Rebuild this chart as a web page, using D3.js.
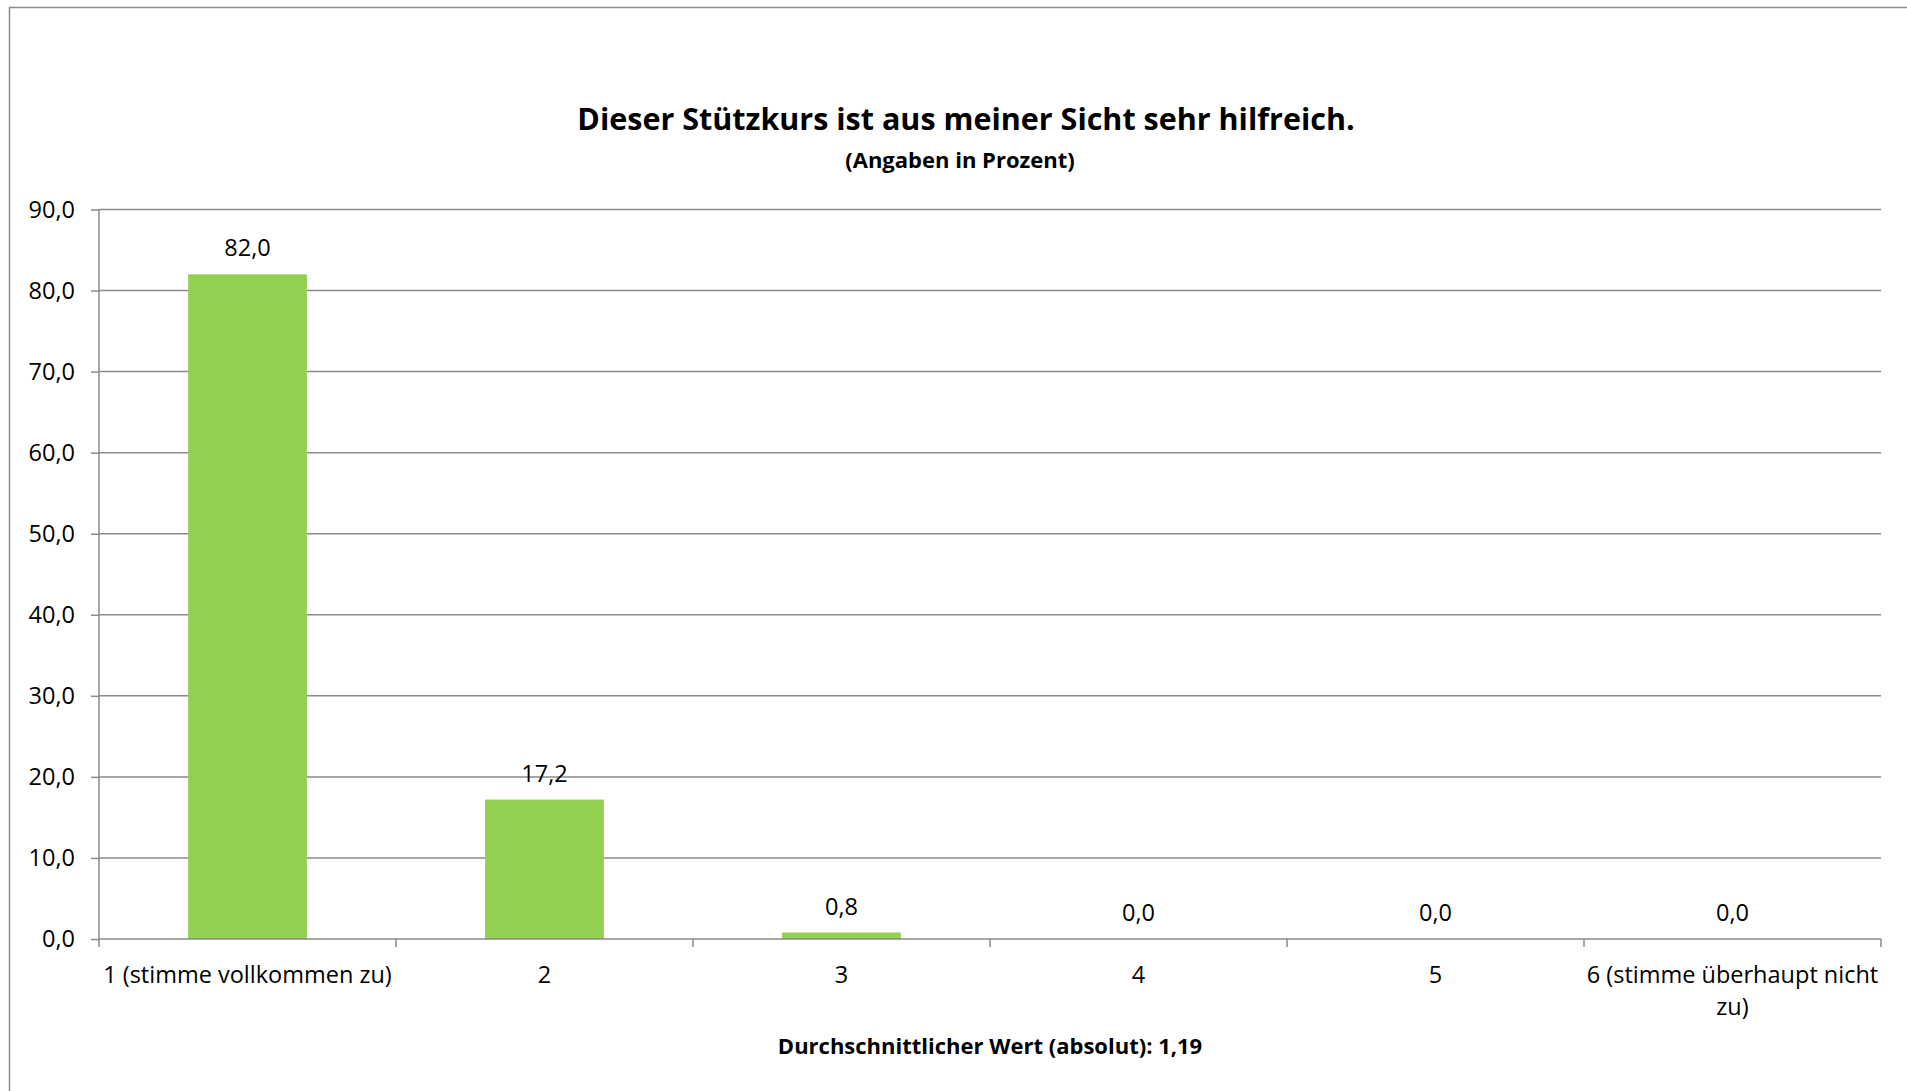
<!DOCTYPE html>
<html>
<head>
<meta charset="utf-8">
<script src="https://cdn.jsdelivr.net/npm/d3@7"></script>
<style>
  html, body { margin: 0; padding: 0; background: #fff; }
  svg { display: block; font-family: "Open Sans", "Noto Sans", sans-serif; }
</style>
</head>
<body>
<svg id="chart" width="1907" height="1091"></svg>
<script>
// Antworten auf einer Skala von 1 bis 6
const categories = [
  "1 (stimme vollkommen zu)",
  "2",
  "3",
  "4",
  "5",
  "6 (stimme überhaupt nicht zu)"
];
const values = [82.0, 17.2, 0.8, 0.0, 0.0, 0.0];
const yTicks = [0, 10, 20, 30, 40, 50, 60, 70, 80, 90];

const title = "Dieser Stützkurs ist aus meiner Sicht sehr hilfreich.";
const subtitle = "(Angaben in Prozent)";
const xTitle = "Durchschnittlicher Wert (absolut): 1,19";

const W = 1907, H = 1091;
const margin = { top: 209.5, right: 26, bottom: 152, left: 99 };
const innerW = W - margin.left - margin.right;
const innerH = H - margin.top - margin.bottom;
const labelSize = 23.5;

const fmt = v => d3.format(".1f")(v).replace(".", ",");

const svg = d3.select("#chart");

// Rahmen des Diagrammbereichs
svg.append("rect")
  .attr("x", 9.5).attr("y", 7.5)
  .attr("width", W + 20).attr("height", H + 20)
  .attr("fill", "none").attr("stroke", "#8c8c8c").attr("stroke-width", 1.5);

const g = svg.append("g").attr("transform", `translate(${margin.left},${margin.top})`);

const x = d3.scaleBand().domain(categories).range([0, innerW]).paddingInner(0.6).paddingOuter(0.3);
const y = d3.scaleLinear().domain([0, 90]).range([innerH, 0]);

// Gitterlinien
g.append("g")
  .selectAll("line")
  .data(yTicks.filter(t => t > 0))
  .join("line")
  .attr("x1", 0).attr("x2", innerW)
  .attr("y1", d => y(d)).attr("y2", d => y(d))
  .attr("stroke", "#8a8a8a").attr("stroke-width", 1.5);

// Balken
g.append("g")
  .selectAll("rect")
  .data(values)
  .join("rect")
  .attr("x", (d, i) => x(categories[i]))
  .attr("y", d => y(d))
  .attr("width", x.bandwidth())
  .attr("height", d => innerH - y(d))
  .attr("fill", "#92d050");

// Wertebeschriftungen
g.append("g")
  .selectAll("text")
  .data(values)
  .join("text")
  .attr("x", (d, i) => x(categories[i]) + x.bandwidth() / 2)
  .attr("y", d => y(d) - 18)
  .attr("text-anchor", "middle")
  .attr("font-size", labelSize)
  .attr("fill", "#000")
  .text(d => fmt(d));

// y-Achse
const yAxis = g.append("g")
  .call(d3.axisLeft(y).tickValues(yTicks).tickSize(8).tickPadding(16).tickFormat(fmt));
yAxis.select(".domain").attr("stroke", "#8a8a8a").attr("stroke-width", 1.5).attr("d", `M0,${innerH}V0`);
yAxis.selectAll(".tick line").attr("stroke", "#8a8a8a").attr("stroke-width", 1.5);
yAxis.selectAll(".tick text").attr("font-size", labelSize).attr("font-family", "Open Sans").attr("fill", "#000");

// x-Achse mit Teilstrichen an den Kategoriegrenzen
const xAxisG = g.append("g").attr("transform", `translate(0,${innerH})`);
xAxisG.append("line")
  .attr("x1", 0).attr("x2", innerW)
  .attr("stroke", "#8a8a8a").attr("stroke-width", 1.5);
const bounds = d3.range(categories.length + 1).map(i => i * innerW / categories.length);
xAxisG.selectAll("line.tick")
  .data(bounds)
  .join("line")
  .attr("class", "tick")
  .attr("x1", d => d).attr("x2", d => d)
  .attr("y1", 0).attr("y2", 8)
  .attr("stroke", "#8a8a8a").attr("stroke-width", 1.5);

// Kategorienbeschriftungen (mit Zeilenumbruch bei Bedarf)
const catW = innerW / categories.length;
const labels = xAxisG.selectAll("text.cat")
  .data(categories)
  .join("text")
  .attr("class", "cat")
  .attr("text-anchor", "middle")
  .attr("font-size", labelSize)
  .attr("fill", "#000")
  .attr("y", 44);
labels.each(function(d) {
  const t = d3.select(this);
  const cx = x(d) + x.bandwidth() / 2;
  const words = d.split(" ");
  let line = [];
  const lines = [];
  const tmp = t.append("tspan");
  words.forEach(w => {
    const test = line.concat([w]).join(" ");
    tmp.text(test);
    if (tmp.node().getComputedTextLength() > catW - 2 && line.length) {
      lines.push(line.join(" "));
      line = [w];
    } else {
      line.push(w);
    }
  });
  lines.push(line.join(" "));
  tmp.remove();
  lines.forEach((l, k) => {
    t.append("tspan").attr("x", cx).attr("dy", k === 0 ? 0 : 32).text(l);
  });
});

// Titel
svg.append("text")
  .attr("x", 966).attr("y", 130)
  .attr("text-anchor", "middle")
  .attr("font-size", 30.5).attr("font-weight", "bold")
  .text(title);

svg.append("text")
  .attr("x", 960).attr("y", 168)
  .attr("text-anchor", "middle")
  .attr("font-size", 22).attr("font-weight", "bold")
  .text(subtitle);

// Achsentitel
svg.append("text")
  .attr("x", margin.left + innerW / 2).attr("y", 1054)
  .attr("text-anchor", "middle")
  .attr("font-size", 22).attr("font-weight", "bold")
  .text(xTitle);
</script>
</body>
</html>
